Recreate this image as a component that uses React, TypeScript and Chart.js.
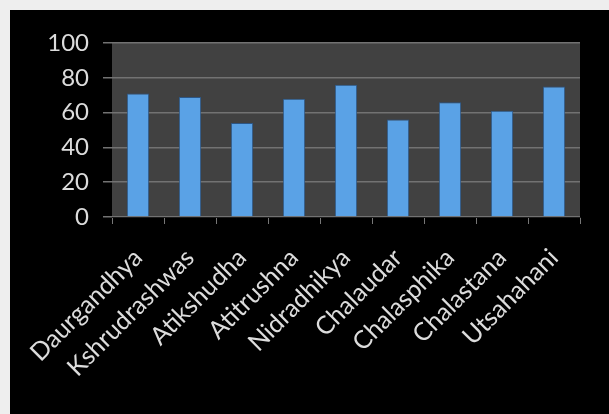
import React, { useEffect, useRef } from "react";
import { Chart, registerables } from "chart.js";

Chart.register(...registerables);

const categories = [
  "Daurgandhya",
  "Kshrudrashwas",
  "Atikshudha",
  "Atitrushna",
  "Nidradhikya",
  "Chalaudar",
  "Chalasphika",
  "Chalastana",
  "Utsahahani",
];
const values = [71, 69, 54, 68, 76, 56, 66, 61, 75];
const yTicks = [0, 20, 40, 60, 80, 100];

const plotBg = {
  id: "plotBg",
  beforeDraw(chart: any) {
    const { ctx, chartArea } = chart;
    if (!chartArea) return;
    ctx.save();
    ctx.fillStyle = "#414141";
    ctx.fillRect(chartArea.left, chartArea.top, chartArea.right - chartArea.left, chartArea.bottom - chartArea.top);
    ctx.restore();
  },
};

export default function App() {
  const ref = useRef<HTMLCanvasElement | null>(null);
  useEffect(() => {
    if (!ref.current) return;
    const chart = new Chart(ref.current, {
      type: "bar",
      data: {
        labels: categories,
        datasets: [
          {
            data: values,
            backgroundColor: (c: any) => {
              const el = c.element;
              const ctx = c.chart.ctx;
              if (!el || el.x === undefined || !el.width) return "#5aa2e6";
              const x0 = el.x - el.width / 2;
              const g = ctx.createLinearGradient(x0, 0, x0 + el.width, 0);
              g.addColorStop(0, "#4a8ed6");
              g.addColorStop(0.45, "#6cb0f0");
              g.addColorStop(1, "#4a8ed6");
              return g;
            },
            borderColor: "#2c5686",
            borderWidth: 1,
            barPercentage: 0.43,
            categoryPercentage: 1,
          },
        ],
      },
      options: {
        animation: false,
        responsive: false,
        maintainAspectRatio: false,
        layout: { padding: { top: 33, right: 29, left: 0, bottom: 0 } },
        plugins: { legend: { display: false }, tooltip: { enabled: false } },
        scales: {
          x: {
            grid: {
              offset: true,
              drawOnChartArea: false,
              drawTicks: true,
              tickLength: 7,
              color: "#777777",
            },
            border: { display: true, color: "#1c1c1c" },
            ticks: {
              color: "#dcdcdc",
              font: { family: "Lato", size: 25 },
              maxRotation: 45,
              minRotation: 45,
              padding: 19,
              autoSkip: false,
            },
            afterFit(scale: any) {
              scale.height = 197;
              scale.paddingLeft = 0;
              scale.paddingRight = 0;
            },
          },
          y: {
            min: 0,
            max: 100,
            afterBuildTicks(scale: any) {
              scale.ticks = yTicks.map((v) => ({ value: v }));
            },
            grid: { color: "#727272", tickLength: 9, lineWidth: 1.5 },
            border: { display: false },
            ticks: {
              color: "#dcdcdc",
              font: { family: "Lato", size: 24 },
              padding: 14,
            },
            afterFit(scale: any) {
              scale.width = 102;
              scale.paddingTop = 0;
              scale.paddingBottom = 0;
            },
          },
        },
      },
      plugins: [plotBg],
    });
    return () => chart.destroy();
  }, []);
  return (
    <div style={{ position: "fixed", left: 0, top: 0, width: 609, height: 414, background: "#eeeeee" }}>
      <div style={{ position: "absolute", left: 10, top: 10, width: 599, height: 404, background: "#000" }}>
        <canvas ref={ref} width={599} height={404} style={{ display: "block" }} />
      </div>
    </div>
  );
}
